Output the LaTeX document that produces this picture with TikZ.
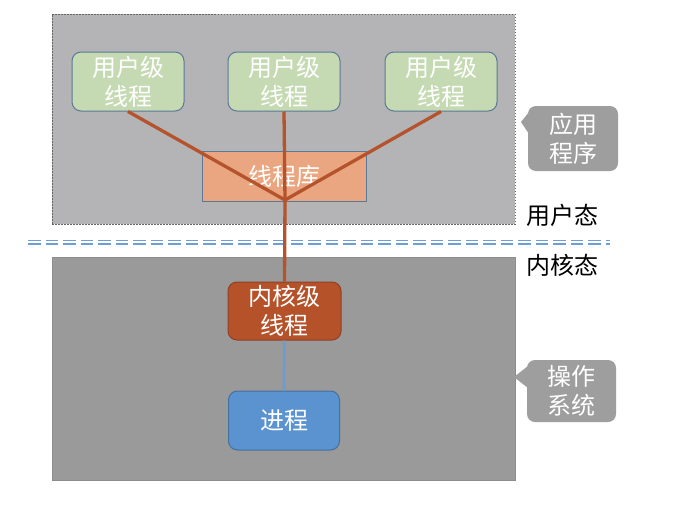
\documentclass[tikz,border=0pt]{standalone}
\usepackage{fontspec}
\setmainfont{Noto Sans CJK SC}
\definecolor{topbg}{HTML}{B4B4B6}
\definecolor{botbg}{HTML}{9A9A9A}
\definecolor{ugreen}{HTML}{C5DAB2}
\definecolor{boxedge}{HTML}{5C7897}
\definecolor{libfill}{HTML}{EAA680}
\definecolor{kfill}{HTML}{B5522A}
\definecolor{kedge}{HTML}{8E4125}
\definecolor{pfill}{HTML}{5B93D0}
\definecolor{pedge}{HTML}{466F9E}
\definecolor{rline}{HTML}{B5532C}
\definecolor{bline}{HTML}{709CCD}
\definecolor{callfill}{HTML}{9E9E9E}
\definecolor{sepblue}{HTML}{6F9DD6}
\begin{document}
\begin{tikzpicture}[x=1pt,y=-1pt,
  txt/.style={font=\fontsize{24}{29}\selectfont, text=white, align=center},
  ubox/.style={txt, draw=boxedge, line width=1pt, fill=ugreen, rounded corners=9pt,
    minimum width=112pt, minimum height=59pt, inner sep=0pt},
  libbox/.style={txt, draw=boxedge, line width=1pt, fill=libfill,
    minimum width=164pt, minimum height=50pt, inner sep=0pt},
  kbox/.style={txt, draw=kedge, line width=1pt, fill=kfill, rounded corners=9pt,
    minimum width=113pt, minimum height=58pt, inner sep=0pt},
  pbox/.style={txt, draw=pedge, line width=1pt, fill=pfill, rounded corners=9pt,
    minimum width=111pt, minimum height=59pt, inner sep=0pt},
  callbox/.style={txt, fill=callfill, rounded corners=8pt, inner sep=0pt},
  redline/.style={draw=rline, line width=3.3pt},
  blueline/.style={draw=bline, line width=3pt},
  sepline/.style={draw=sepblue, line width=1.5pt, dash pattern=on 12.5pt off 5pt},
  lbl/.style={font=\fontsize{24}{29}\selectfont, text=black}
]
\useasboundingbox (0,0) rectangle (685,504);
\fill[white] (0,0) rectangle (685,504);

% regions
\node[draw=gray!80!black, dash pattern=on 1.5pt off 1.5pt, line width=0.7pt, fill=topbg,
  minimum width=463pt, minimum height=210pt, inner sep=0pt] (app) at (283.5,119) {};
\node[draw=gray!90, line width=0.8pt, fill=botbg,
  minimum width=463pt, minimum height=223pt, inner sep=0pt] (os) at (283.5,368.5) {};

% separator
\coordinate (sepa) at (28,240.3);
\coordinate (sepb) at (610,240.3);
\coordinate (sepc) at (28,244.2);
\coordinate (sepd) at (610,244.2);
\draw[sepline] (sepa) -- (sepb);
\draw[sepline] (sepc) -- (sepd);

% nodes
\node[ubox] (u1) at (128,81.5) {用户级\\线程};
\node[ubox] (u2) at (284,81.5) {用户级\\线程};
\node[ubox] (u3) at (441,81.5) {用户级\\线程};
\node[libbox] (lib) at (284,176) {线程库};
\node[kbox] (k) at (284.5,311) {内核级\\线程};
\node[pbox] (p) at (284,420.5) {进程};
\coordinate (hub) at (285,200);

% connectors
\draw[redline] (u1.south) -- (hub);
\draw[redline] (u3.south) -- (hub);
\draw[redline] (u2.south) -- (hub) -- (k.north);
\draw[blueline] (k.south) -- (p.north);

% callouts
\node[callbox, minimum width=90pt, minimum height=65pt] (c1) at (573,138.5) {应用\\程序};
\fill[callfill] (521,122) -- (529,112) -- (529,134) -- cycle;
\node[callbox, minimum width=89pt, minimum height=62pt] (c2) at (571.5,391) {操作\\系统};
\fill[callfill] (514,377) -- (528,366) -- (528,388) -- cycle;

% labels
\node[lbl] (ulbl) at (562,215) {用户态};
\node[lbl] (klbl) at (562,265) {内核态};
\end{tikzpicture}
\end{document}
